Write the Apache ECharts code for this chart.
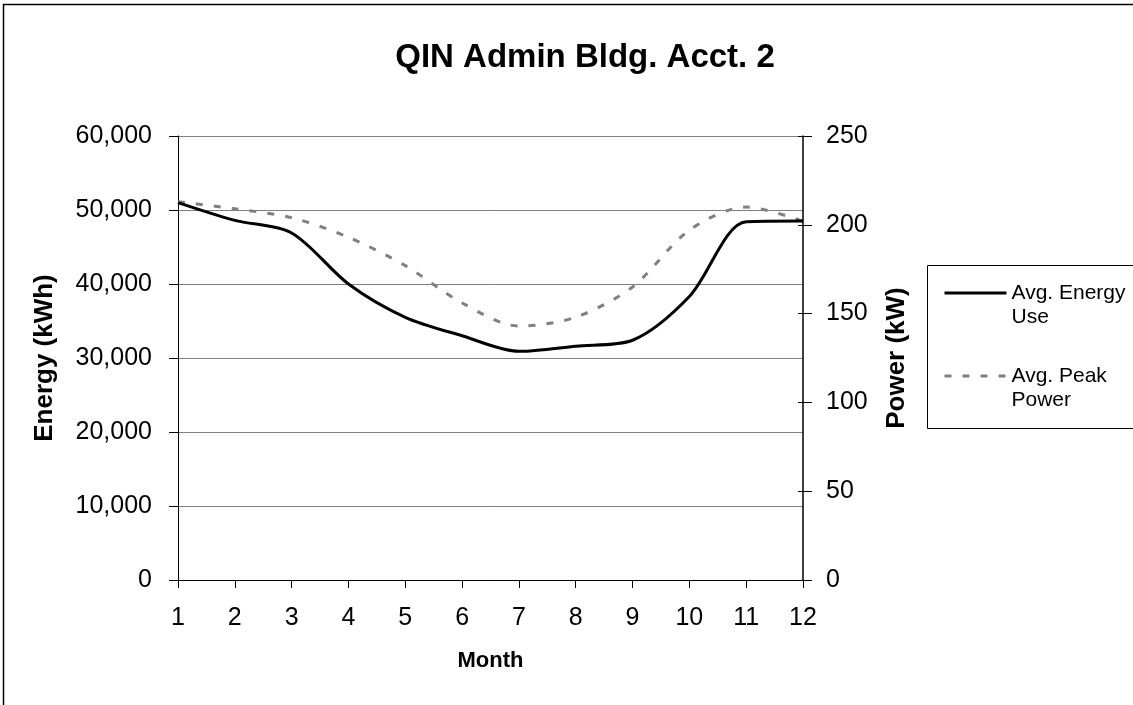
<!DOCTYPE html>
<html>
<head>
<meta charset="utf-8">
<style>
html,body{margin:0;padding:0;background:#fff;}
#chart{width:1133px;height:705px;}
</style>
<script src="https://cdn.jsdelivr.net/npm/echarts@6/dist/echarts.min.js"></script>
</head>
<body>
<div id="chart"></div>
<script>
const months = ['1','2','3','4','5','6','7','8','9','10','11','12'];
const energyUse = [51000, 48600, 46900, 40000, 35500, 33000, 30900, 31600, 32400, 38300, 48400, 48500];
const peakPower = [213, 209, 204, 193, 177, 156, 143, 148, 165, 197, 210, 202];
const leftTicks = [0, 10000, 20000, 30000, 40000, 50000, 60000];
const rightTicks = [0, 50, 100, 150, 200, 250];

const FONT = 'Liberation Sans, Arial, sans-serif';
const chart = echarts.init(document.getElementById('chart'));
const fmt = v => v.toLocaleString('en-US');

chart.setOption({
  animation: false,
  backgroundColor: '#fff',
  title: {
    text: 'QIN Admin Bldg. Acct. 2',
    left: 580, top: 36, textAlign: 'center',
    textStyle: {fontFamily: FONT, fontSize: 33, fontWeight: 'bold', color: '#000'}
  },
  graphic: [
    {type: 'rect', shape: {x: 3.5, y: 4.5, width: 1300, height: 900},
     style: {fill: 'none', stroke: '#000', lineWidth: 1.5}, silent: true, z: -1},
    {type: 'rect', shape: {x: 927.5, y: 265.5, width: 300, height: 163},
     style: {fill: '#fff', stroke: '#000', lineWidth: 1}, silent: true, z: 0}
  ],
  legend: {
    orient: 'vertical', left: 943, top: 257, itemGap: 11,
    itemWidth: 62, itemHeight: 14, padding: 0,
    data: ['Avg. Energy\nUse', 'Avg. Peak\nPower'],
    formatter: n => ' \n' + n,
    itemStyle: {opacity: 0},
    lineStyle: {width: 3},
    textStyle: {fontFamily: FONT, fontSize: 21, color: '#000', lineHeight: 24},
    z: 5
  },
  grid: {left: 178, right: 330, top: 136, bottom: 125},
  xAxis: {
    type: 'category', data: months, boundaryGap: false,
    name: 'Month', nameLocation: 'middle', nameGap: 70,
    nameTextStyle: {fontFamily: FONT, fontSize: 22, fontWeight: 'bold', color: '#000'},
    axisLine: {lineStyle: {color: '#000', width: 1}},
    axisTick: {show: true, alignWithLabel: true, length: 8, lineStyle: {color: '#000'}},
    axisLabel: {fontFamily: FONT, fontSize: 25, color: '#000', margin: 26},
    splitLine: {show: false}
  },
  yAxis: [
    {
      type: 'value', position: 'left', min: 0, max: 60000, interval: 10000,
      name: 'Energy (kWh)', nameLocation: 'middle', nameRotate: 90, nameGap: 120,
      nameTextStyle: {fontFamily: FONT, fontSize: 26, fontWeight: 'bold', color: '#000'},
      axisLine: {show: true, lineStyle: {color: '#000', width: 1}},
      axisTick: {show: true, length: 9, lineStyle: {color: '#000'}},
      axisLabel: {fontFamily: FONT, fontSize: 25, color: '#000', margin: 26,
        formatter: v => leftTicks.includes(v) ? fmt(v) : ''},
      splitLine: {show: true, lineStyle: {color: '#808080', width: 1}}
    },
    {
      type: 'value', position: 'right', min: 0, max: 250, interval: 50,
      name: 'Power (kW)', nameLocation: 'middle', nameRotate: 90, nameGap: 81,
      nameTextStyle: {fontFamily: FONT, fontSize: 26, fontWeight: 'bold', color: '#000'},
      axisLine: {show: true, lineStyle: {color: '#000', width: 1.5}},
      axisTick: {show: true, length: 9, lineStyle: {color: '#000'}},
      axisLabel: {fontFamily: FONT, fontSize: 25, color: '#000', margin: 23,
        formatter: v => rightTicks.includes(v) ? String(v) : ''},
      splitLine: {show: false}
    },
    {
      type: 'value', position: 'right', min: 0, max: 250, interval: 50,
      axisLine: {show: false},
      axisTick: {show: true, inside: true, length: 5, lineStyle: {color: '#000'}},
      axisLabel: {show: false},
      splitLine: {show: false}
    }
  ],
  series: [
    {
      name: 'Avg. Energy\nUse', type: 'line', yAxisIndex: 0, data: energyUse,
      smooth: 0.3, symbol: 'none', z: 3,
      lineStyle: {color: '#000', width: 3}, itemStyle: {color: '#000'}
    },
    {
      name: 'Avg. Peak\nPower', type: 'line', yAxisIndex: 1, data: peakPower,
      smooth: 0.3, symbol: 'none', z: 2,
      lineStyle: {color: '#808080', width: 3, type: [7, 11]}, itemStyle: {color: '#808080'}
    }
  ]
});
</script>
</body>
</html>
